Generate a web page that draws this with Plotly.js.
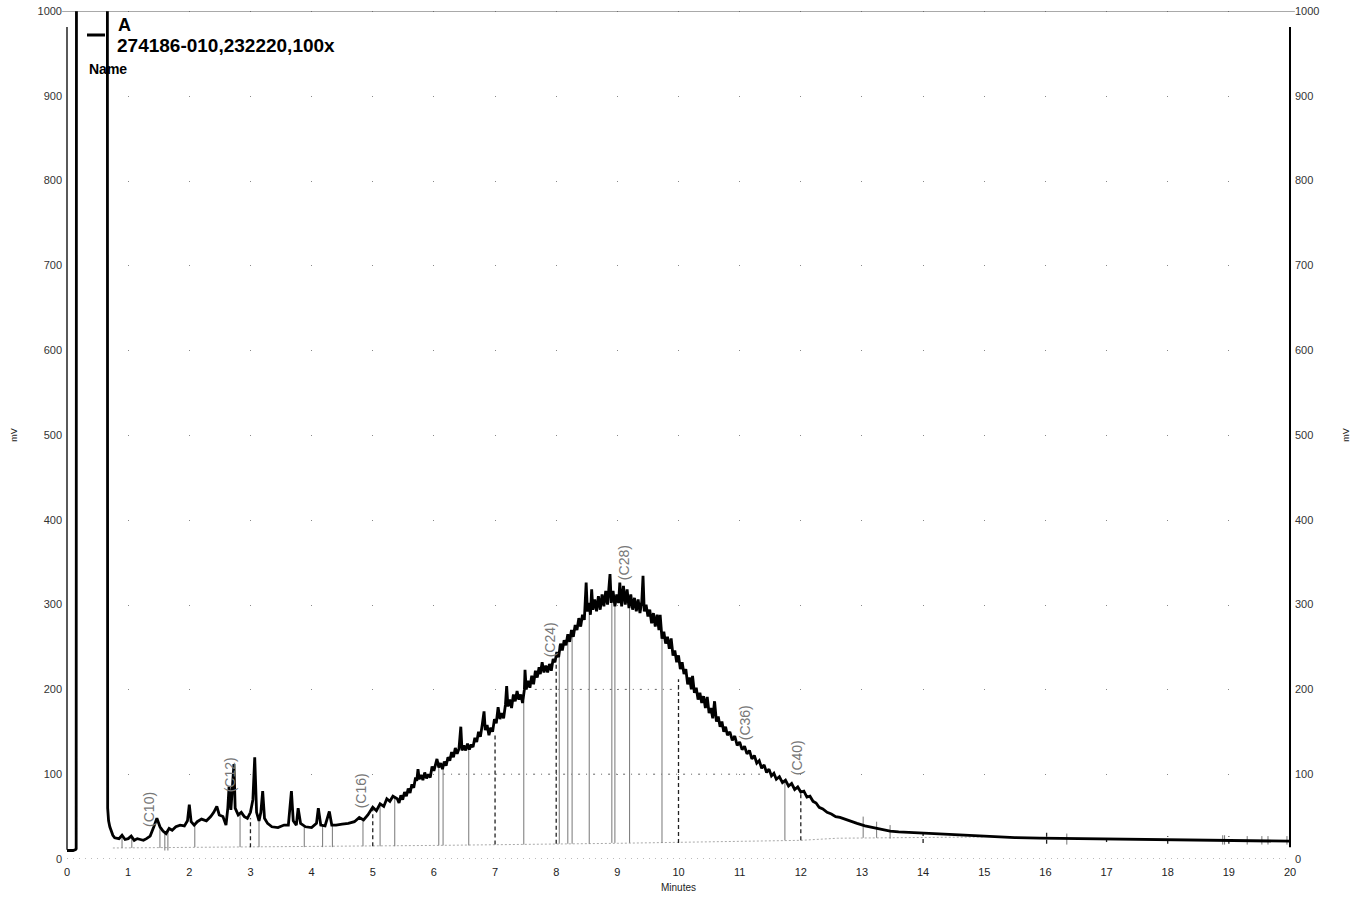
<!DOCTYPE html>
<html>
<head>
<meta charset="utf-8">
<script src="https://cdn.plot.ly/plotly-3.0.1.min.js"></script>
<style>html,body{margin:0;padding:0;background:#fff}#chart{width:1360px;height:900px}</style>
</head>
<body>
<div id="chart"></div>
<script>
// ---- chromatogram signal (minutes, mV) ----
const time = [0.00,0.10,0.14,0.15,0.155,0.66,0.665,0.68,0.70,0.75,0.78,0.85,0.90,0.95,1.00,1.05,1.10,1.15,1.20,1.25,1.30,1.36,1.42,1.47,1.52,1.57,1.62,1.67,1.72,1.78,1.85,1.92,1.97,2.00,2.03,2.08,2.13,2.20,2.28,2.35,2.40,2.45,2.49,2.55,2.60,2.63,2.65,2.68,2.71,2.73,2.75,2.80,2.85,2.90,2.95,3.00,3.04,3.07,3.10,3.14,3.17,3.20,3.23,3.28,3.35,3.45,3.55,3.62,3.67,3.70,3.75,3.78,3.82,3.90,4.00,4.08,4.11,4.15,4.22,4.29,4.33,4.40,4.50,4.60,4.70,4.78,4.85,4.92,5.00,5.06,5.12,5.18,5.23,5.28,5.33,
5.40,5.43,5.46,5.49,5.52,5.55,5.58,5.61,5.64,5.67,5.70,5.72,5.74,5.76,5.79,5.82,5.85,5.88,5.91,5.94,5.97,6.00,6.03,6.05,6.08,6.11,6.14,6.17,6.20,6.23,6.26,6.29,6.32,6.35,6.38,6.41,6.44,6.46,6.49,6.52,6.55,6.58,6.61,6.64,6.67,6.70,6.73,6.76,6.79,6.82,6.84,6.87,6.90,6.93,6.96,6.99,7.02,7.05,7.08,7.11,7.14,7.17,7.19,7.21,7.24,7.27,7.30,7.33,7.36,7.39,7.42,7.45,7.48,7.49,7.51,7.54,7.57,7.60,7.63,7.66,7.69,7.72,7.74,7.77,7.80,7.83,7.86,7.89,7.92,7.95,7.98,8.01,8.04,8.07,8.10,8.13,8.16,8.19,8.22,8.25,8.28,8.31,8.34,8.37,8.40,8.43,8.46,8.49,8.51,8.54,8.56,8.58,8.60,8.63,8.66,8.69,8.72,8.75,8.78,8.81,8.84,8.86,8.88,8.90,8.93,8.96,8.99,9.02,9.04,9.07,9.10,9.13,9.16,9.19,9.22,9.25,9.28,9.31,9.34,9.37,9.40,9.42,9.44,9.47,9.50,9.53,9.56,9.59,9.62,9.65,9.68,9.70,9.73,9.76,9.79,9.82,9.85,9.88,9.91,9.94,9.97,10.00,10.03,10.06,10.09,10.12,10.15,10.18,10.21,10.23,10.26,10.29,10.32,10.35,10.38,10.41,10.44,10.47,10.50,10.53,10.56,10.59,10.62,10.65,10.68,10.71,10.74,10.77,10.80,10.84,10.88,10.92,10.96,11.00,11.04,11.08,11.12,11.16,11.20,11.24,11.28,11.32,11.36,11.40,11.44,11.48,11.52,11.56,11.60,11.65,11.70,11.75,11.80,11.85,11.90,11.95,12.00,12.05,12.10,12.15,12.20,12.25,12.30,12.36,12.43,12.50,12.57,12.64,
12.75,12.85,12.92,13.05,13.18,13.32,13.46,13.60,13.74,14.00,14.28,14.70,15.09,15.50,15.91,16.50,17.00,17.50,18.09,18.60,19.20,19.60,20.00];
const signal = [10,10,11,12,1100,1100,60,45,38,28,25,24,28,23,24,27,22,24,23,22,24,27,38,48,38,33,30,36,34,38,40,39,45,64,44,40,44,47,45,50,55,62,52,50,40,60,85,58,90,112,60,52,55,50,48,55,70,120,55,45,55,80,48,42,38,37,40,40,80,45,40,60,42,38,37,42,60,40,39,56,40,40,41,42,44,49,46,52,61,57,65,62,71,68,74,
71,66,75,70,79,74,83,78,88,84,96,92,106,94,99,93,102,95,100,96,109,104,112,118,108,113,106,115,110,120,116,126,120,131,124,130,156,128,134,128,136,129,135,132,143,138,150,144,158,174,152,158,146,155,150,165,160,179,165,172,166,182,204,180,188,178,194,186,198,188,194,184,200,223,200,210,202,216,206,222,214,226,218,232,220,228,220,230,222,236,232,244,238,254,246,258,252,265,256,270,262,276,270,284,274,288,282,326,292,302,288,318,294,306,292,310,294,312,298,316,300,318,336,302,316,298,312,302,326,298,322,300,318,296,312,294,308,292,306,290,304,334,292,300,286,294,278,290,274,288,270,288,260,268,254,262,248,260,240,246,232,240,224,232,218,224,206,214,200,216,196,202,188,196,184,192,178,191,172,178,166,186,162,168,156,162,150,156,146,150,140,145,134,138,129,133,124,128,118,122,113,116,107,111,102,106,98,101,94,97,90,93,86,89,82,85,79,80,73,74,68,66,61,59,55,53,50,49,
46,44,42,39,37,35,33,32,31.5,30.5,29.5,27.5,26,25.2,24.5,24,23.5,23,22.4,22,21.6,21.3,21];

// ---- integration baseline ----
const baseTime = [0.75,3.0,6.0,9.0,12.0,12.6,15.0];
const baseLevel = [13,14,16,18.5,22,24.5,26];

// ---- peak drop lines (solid) ----
const dropTime = [0.90,1.06,1.52,1.60,1.65,2.09,2.83,3.14,3.88,4.18,4.34,4.84,5.12,5.36,6.08,6.15,6.57,7.47,8.05,8.19,8.26,8.54,8.91,8.96,9.20,9.73,11.74,13.02,13.24,13.46,16.35,18.90,18.93,19.30,19.54,19.64,19.95];
const dropLow  = [13,13,13,10,10,14,14,14,14,14,14,15,15,15,16,16,16,17,18,18,18,18,19,19,19,19,22,25,25,24,17,17,17,17,17,17,17];
const dropHigh = [28,27,38,32,34,40,52,45,38,40,40,46,65,72,115,109,132,186,252,262,268,295,306,310,300,262,91,50,44,40,30,28,28,27,27,27,27];

// ---- time window markers (dashed) ----
const markTime = [3,5,7,8,10,12,14,16.02,17,18,19];
const markLow  = [14,15,17,18,19,22,19,18,20,18,18];
const markHigh = [48,61,148,231,212,78,34,32,27,27,27];

// ---- horizontal dash-dot reference segments ----
const refLevel = [100,200];
const refStart = [6.15,7.65];
const refEnd   = [11.4,10.0];

// ---- peak labels ----
const peakLabel = ["(C10)","(C12)","(C16)","(C24)","(C28)","(C36)","(C40)"];
const peakTime  = [1.34,2.67,4.81,7.90,9.11,11.10,11.94];
const peakLevel = [59,99,80,258,349,161,119];

// ---- axis ticks ----
const xTicks = [0,1,2,3,4,5,6,7,8,9,10,11,12,13,14,15,16,17,18,19,20];
const yTicks = [0,100,200,300,400,500,600,700,800,900,1000];

// legend text
const seriesName = "A";
const sampleName = "274186-010,232220,100x";

const FONT = "Liberation Sans, Arial, sans-serif";

function segs(xs, lo, hi) {
  const X = [], Y = [];
  xs.forEach((x, i) => { X.push(x, x, null); Y.push(lo[i], hi[i], null); });
  return {X, Y};
}
const drops = segs(dropTime, dropLow, dropHigh);
const marks = segs(markTime, markLow, markHigh);
const refX = [], refY = [];
refLevel.forEach((lv, i) => { refX.push(refStart[i], refEnd[i], null); refY.push(lv, lv, null); });

const traces = [
  {x: baseTime, y: baseLevel, type: 'scatter', mode: 'lines', line: {color: '#aaa', width: 1, dash: '2px,2px'}, hoverinfo: 'skip', showlegend: false},
  {x: refX, y: refY, type: 'scatter', mode: 'lines', line: {color: '#666', width: 1, dash: '2px,6px,1px,6px'}, hoverinfo: 'skip', showlegend: false},
  {x: drops.X, y: drops.Y, type: 'scatter', mode: 'lines', line: {color: '#777', width: 1}, hoverinfo: 'skip', showlegend: false},
  {x: marks.X, y: marks.Y, type: 'scatter', mode: 'lines', line: {color: '#222', width: 1.3, dash: '4px,3px'}, hoverinfo: 'skip', showlegend: false},
  {x: time, y: signal, type: 'scatter', mode: 'lines', name: seriesName, line: {color: '#000', width: 2.8}, showlegend: false},
  {x: [0,20], y: [0,0], yaxis: 'y2', type: 'scatter', mode: 'markers', marker: {opacity: 0}, hoverinfo: 'skip', showlegend: false}
];

const annotations = peakLabel.map((t, i) => ({
  x: peakTime[i], y: peakLevel[i], xref: 'x', yref: 'y', text: t, textangle: -90,
  showarrow: false, font: {family: FONT, size: 14, color: '#777'}
}));
annotations.push(
  {xref: 'paper', yref: 'paper', x: (116 - 67) / 1223, y: (859 - 25) / 848, xanchor: 'left', yanchor: 'middle', text: '<b>' + seriesName + '</b>', showarrow: false, font: {family: FONT, size: 18, color: '#000'}},
  {xref: 'paper', yref: 'paper', x: (115 - 67) / 1223, y: (859 - 46) / 848, xanchor: 'left', yanchor: 'middle', text: '<b>' + sampleName + '</b>', showarrow: false, font: {family: FONT, size: 19, color: '#000'}},
  {xref: 'paper', yref: 'paper', x: (87 - 67) / 1223, y: (859 - 69) / 848, xanchor: 'left', yanchor: 'middle', text: '<b>Name</b>', showarrow: false, font: {family: FONT, size: 14, color: '#000'}}
);

const layout = {
  width: 1360, height: 900,
  margin: {l: 67, r: 70, t: 11, b: 41, pad: 0},
  paper_bgcolor: '#fff', plot_bgcolor: '#fff',
  font: {family: FONT, color: '#222'},
  showlegend: false,
  xaxis: {
    range: [0, 20], tickvals: xTicks, ticktext: xTicks.map(String),
    showgrid: true, gridcolor: '#888', gridwidth: 1, griddash: '1px,83.8px',
    zeroline: false, showline: false, ticks: '',
    tickfont: {size: 11, color: '#222'}, ticklabelstandoff: 5,
    title: {text: 'Minutes', font: {size: 10, color: '#222'}, standoff: 6},
    automargin: false
  },
  yaxis: {
    range: [0, 1000], tickvals: yTicks, ticktext: yTicks.map(String),
    showgrid: false, zeroline: false, showline: false, ticks: '',
    tickfont: {size: 11, color: '#333'}, ticklabelstandoff: 4,
    title: {text: 'mV', font: {size: 9, color: '#222'}, standoff: 18},
    automargin: false
  },
  yaxis2: {
    range: [0, 1000], tickvals: yTicks, ticktext: yTicks.map(String),
    overlaying: 'y', side: 'right', matches: 'y',
    showgrid: false, zeroline: false, showline: false, ticks: '',
    tickfont: {size: 11, color: '#333'}, ticklabelstandoff: 4,
    title: {text: 'mV', font: {size: 9, color: '#222'}, standoff: 24},
    automargin: false
  },
  shapes: [
    {type: 'line', xref: 'paper', yref: 'y', x0: -0.004, x1: 1.004, y0: 1000, y1: 1000, line: {color: '#555', width: 1}},
    {type: 'line', xref: 'paper', yref: 'y', x0: 0, x1: 0, y0: 11, y1: 981, line: {color: '#000', width: 1.3}},
    {type: 'line', xref: 'paper', yref: 'y', x0: 1, x1: 1, y0: 14, y1: 981, line: {color: '#000', width: 2}},
    {type: 'line', xref: 'paper', yref: 'y', x0: 0, x1: 1, y0: 0, y1: 0, line: {color: '#777', width: 1, dash: '1px,5px'}},
    {type: 'line', xref: 'paper', yref: 'paper', x0: (87 - 67) / 1223, x1: (105 - 67) / 1223, y0: (859 - 35) / 848, y1: (859 - 35) / 848, line: {color: '#000', width: 3}}
  ],
  annotations: annotations
};

Plotly.newPlot('chart', traces, layout, {displayModeBar: false, staticPlot: true});
</script>
</body>
</html>
